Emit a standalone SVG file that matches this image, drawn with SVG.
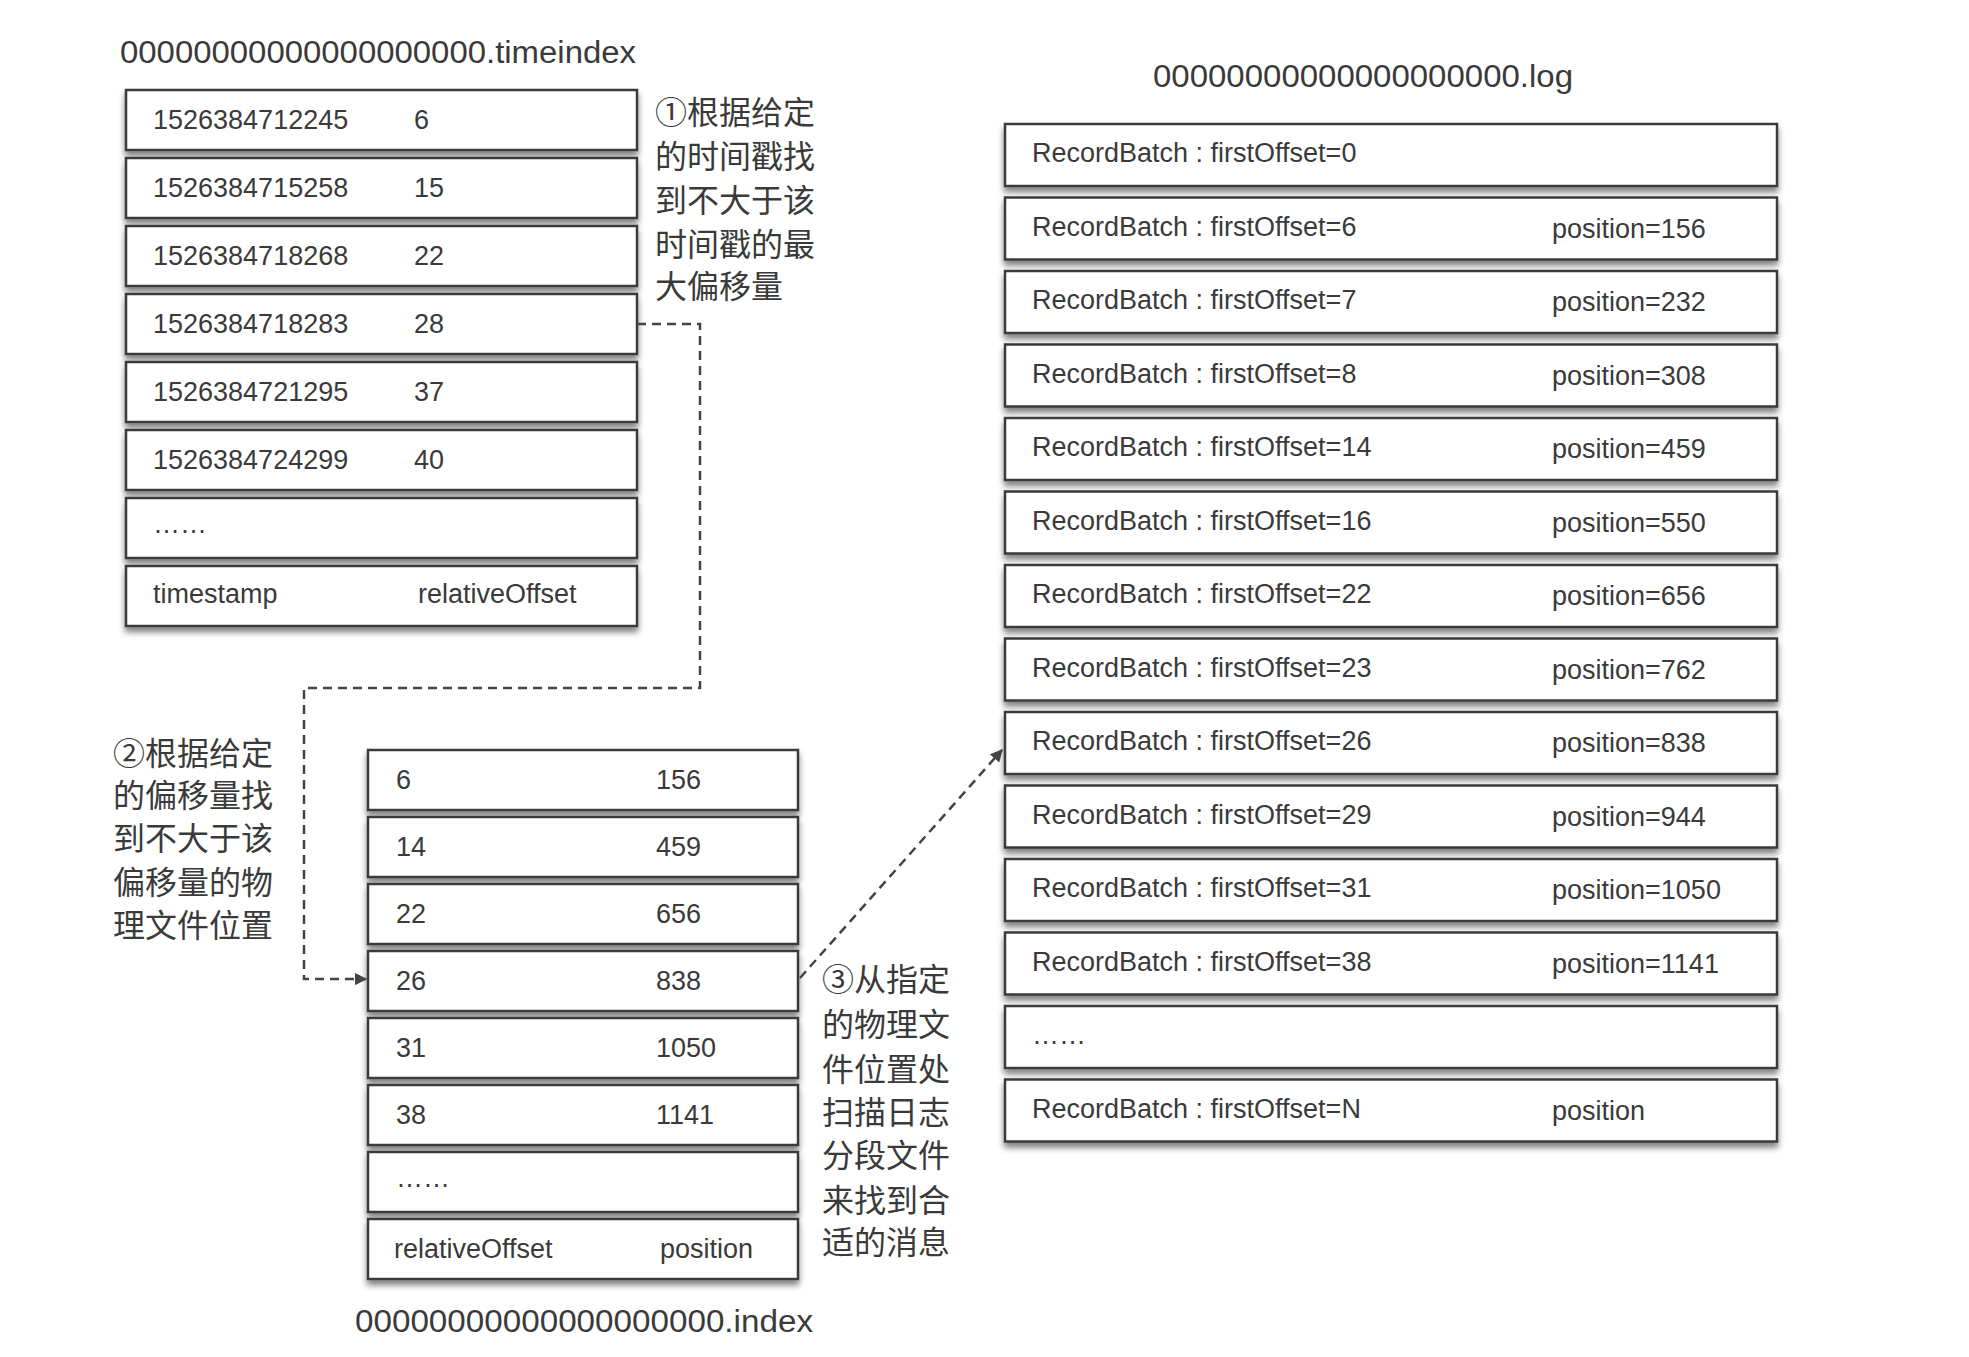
<svg xmlns="http://www.w3.org/2000/svg" width="1969" height="1357" viewBox="0 0 1969 1357">
<style>
.b{fill:#fff;stroke:#3a3a3a;stroke-width:2.5}
.t{font-family:"Liberation Sans",Arial,sans-serif;font-size:27px;fill:#3a3a3a}
.h{font-family:"Liberation Sans",Arial,sans-serif;font-size:31px;fill:#3a3a3a}
.c{font-family:"Noto Sans CJK SC","Liberation Sans",sans-serif;font-size:32px;fill:#3a3a3a}
.d{fill:none;stroke:#444;stroke-width:2.5;stroke-dasharray:9 6}
</style>
<defs>
<filter id="sh" x="-5%" y="-20%" width="110%" height="160%"><feGaussianBlur in="SourceAlpha" stdDeviation="3"/><feOffset dy="5"/><feComponentTransfer><feFuncA type="linear" slope="0.5"/></feComponentTransfer><feMerge><feMergeNode/><feMergeNode in="SourceGraphic"/></feMerge></filter>
<marker id="ar" viewBox="0 0 10 10" refX="9" refY="5" markerWidth="5" markerHeight="5" orient="auto"><path d="M0,0L10,5L0,10z" fill="#444"/></marker>
</defs>
<rect width="1969" height="1357" fill="#fff"/>

<g id="timeindex">
<text class="h" x="120" y="63" textLength="516" lengthAdjust="spacingAndGlyphs">00000000000000000000.timeindex</text>
<g filter="url(#sh)">
<rect class="b" x="126" y="90" width="511" height="60"/>
<rect class="b" x="126" y="158" width="511" height="60"/>
<rect class="b" x="126" y="226" width="511" height="60"/>
<rect class="b" x="126" y="294" width="511" height="60"/>
<rect class="b" x="126" y="362" width="511" height="60"/>
<rect class="b" x="126" y="430" width="511" height="60"/>
<rect class="b" x="126" y="498" width="511" height="60"/>
<rect class="b" x="126" y="566" width="511" height="60"/>
</g>
<text class="t" x="153" y="129">1526384712245</text><text class="t" x="414" y="129">6</text>
<text class="t" x="153" y="197">1526384715258</text><text class="t" x="414" y="197">15</text>
<text class="t" x="153" y="265">1526384718268</text><text class="t" x="414" y="265">22</text>
<text class="t" x="153" y="333">1526384718283</text><text class="t" x="414" y="333">28</text>
<text class="t" x="153" y="401">1526384721295</text><text class="t" x="414" y="401">37</text>
<text class="t" x="153" y="469">1526384724299</text><text class="t" x="414" y="469">40</text>
<text class="t" x="153" y="533">……</text>
<text class="t" x="153" y="603">timestamp</text><text class="t" x="418" y="603">relativeOffset</text>
</g>

<g id="index">
<g filter="url(#sh)">
<rect class="b" x="368" y="750" width="430" height="60"/>
<rect class="b" x="368" y="817" width="430" height="60"/>
<rect class="b" x="368" y="884" width="430" height="60"/>
<rect class="b" x="368" y="951" width="430" height="60"/>
<rect class="b" x="368" y="1018" width="430" height="60"/>
<rect class="b" x="368" y="1085" width="430" height="60"/>
<rect class="b" x="368" y="1152" width="430" height="60"/>
<rect class="b" x="368" y="1219" width="430" height="60"/>
</g>
<text class="t" x="396" y="789">6</text><text class="t" x="656" y="789">156</text>
<text class="t" x="396" y="856">14</text><text class="t" x="656" y="856">459</text>
<text class="t" x="396" y="923">22</text><text class="t" x="656" y="923">656</text>
<text class="t" x="396" y="990">26</text><text class="t" x="656" y="990">838</text>
<text class="t" x="396" y="1057">31</text><text class="t" x="656" y="1057">1050</text>
<text class="t" x="396" y="1124">38</text><text class="t" x="656" y="1124">1141</text>
<text class="t" x="396" y="1187">……</text>
<text class="t" x="394" y="1258">relativeOffset</text><text class="t" x="660" y="1258">position</text>
<text class="h" x="355" y="1332" textLength="458" lengthAdjust="spacingAndGlyphs">00000000000000000000.index</text>
</g>

<g id="log">
<text class="h" x="1153" y="87" textLength="420" lengthAdjust="spacingAndGlyphs">00000000000000000000.log</text>
<g filter="url(#sh)">
<rect class="b" x="1005" y="124" width="772" height="62"/>
<rect class="b" x="1005" y="197.5" width="772" height="62"/>
<rect class="b" x="1005" y="271" width="772" height="62"/>
<rect class="b" x="1005" y="344.5" width="772" height="62"/>
<rect class="b" x="1005" y="418" width="772" height="62"/>
<rect class="b" x="1005" y="491.5" width="772" height="62"/>
<rect class="b" x="1005" y="565" width="772" height="62"/>
<rect class="b" x="1005" y="638.5" width="772" height="62"/>
<rect class="b" x="1005" y="712" width="772" height="62"/>
<rect class="b" x="1005" y="785.5" width="772" height="62"/>
<rect class="b" x="1005" y="859" width="772" height="62"/>
<rect class="b" x="1005" y="932.5" width="772" height="62"/>
<rect class="b" x="1005" y="1006" width="772" height="62"/>
<rect class="b" x="1005" y="1079.5" width="772" height="62"/>
</g>
<text class="t" x="1032" y="162">RecordBatch : firstOffset=0</text>
<text class="t" x="1032" y="236">RecordBatch : firstOffset=6</text><text class="t" x="1552" y="238">position=156</text>
<text class="t" x="1032" y="309">RecordBatch : firstOffset=7</text><text class="t" x="1552" y="311">position=232</text>
<text class="t" x="1032" y="383">RecordBatch : firstOffset=8</text><text class="t" x="1552" y="385">position=308</text>
<text class="t" x="1032" y="456">RecordBatch : firstOffset=14</text><text class="t" x="1552" y="458">position=459</text>
<text class="t" x="1032" y="530">RecordBatch : firstOffset=16</text><text class="t" x="1552" y="532">position=550</text>
<text class="t" x="1032" y="603">RecordBatch : firstOffset=22</text><text class="t" x="1552" y="605">position=656</text>
<text class="t" x="1032" y="677">RecordBatch : firstOffset=23</text><text class="t" x="1552" y="679">position=762</text>
<text class="t" x="1032" y="750">RecordBatch : firstOffset=26</text><text class="t" x="1552" y="752">position=838</text>
<text class="t" x="1032" y="824">RecordBatch : firstOffset=29</text><text class="t" x="1552" y="826">position=944</text>
<text class="t" x="1032" y="897">RecordBatch : firstOffset=31</text><text class="t" x="1552" y="899">position=1050</text>
<text class="t" x="1032" y="971">RecordBatch : firstOffset=38</text><text class="t" x="1552" y="973">position=1141</text>
<text class="t" x="1032" y="1044">……</text>
<text class="t" x="1032" y="1118">RecordBatch : firstOffset=N</text><text class="t" x="1552" y="1120">position</text>
</g>

<g id="note1">
<text class="c" x="655" y="124">①根据给定</text>
<text class="c" x="655" y="168">的时间戳找</text>
<text class="c" x="655" y="212">到不大于该</text>
<text class="c" x="655" y="256">时间戳的最</text>
<text class="c" x="655" y="298">大偏移量</text>
</g>
<g id="note2">
<text class="c" x="113" y="765">②根据给定</text>
<text class="c" x="113" y="807">的偏移量找</text>
<text class="c" x="113" y="850">到不大于该</text>
<text class="c" x="113" y="894">偏移量的物</text>
<text class="c" x="113" y="937">理文件位置</text>
</g>
<g id="note3">
<text class="c" x="822" y="991">③从指定</text>
<text class="c" x="822" y="1036">的物理文</text>
<text class="c" x="822" y="1081">件位置处</text>
<text class="c" x="822" y="1124">扫描日志</text>
<text class="c" x="822" y="1167">分段文件</text>
<text class="c" x="822" y="1212">来找到合</text>
<text class="c" x="822" y="1254">适的消息</text>
</g>

<g id="connectors">
<path class="d" d="M637,324H700V688H304V979H366" marker-end="url(#ar)"/>
<path class="d" d="M800,978L1002,750" marker-end="url(#ar)"/>
</g>
</svg>
